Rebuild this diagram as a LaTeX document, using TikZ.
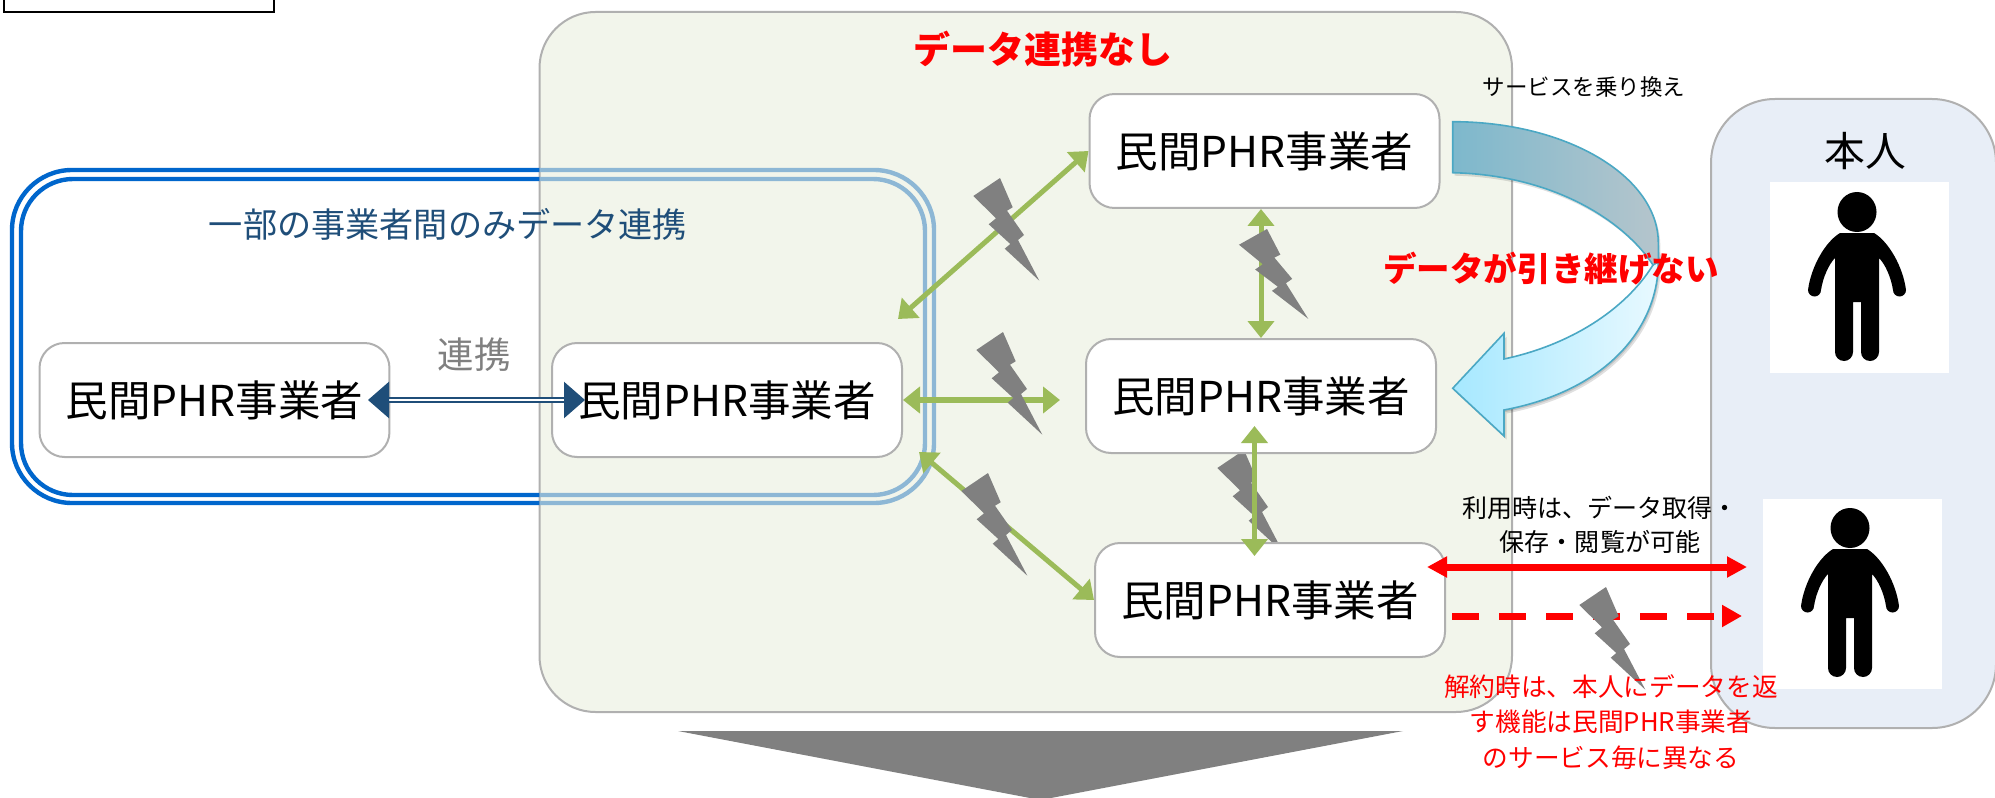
\documentclass[tikz,border=0pt]{standalone}
\usepackage{fontspec}
\setmainfont{Noto Sans CJK JP}
\usetikzlibrary{arrows.meta}
\definecolor{panelg}{HTML}{F2F5EB}
\definecolor{panelb}{HTML}{E8EEF7}
\definecolor{edgeg}{HTML}{B0B0B0}
\definecolor{navy}{HTML}{1F4E79}
\definecolor{ggreen}{HTML}{9BBB59}
\definecolor{frameblue}{HTML}{0066CC}
\definecolor{framepale}{HTML}{8DB7D5}
\definecolor{curveedge}{HTML}{4BA8C4}
\definecolor{upl}{HTML}{7DB8CC}
\definecolor{upr}{HTML}{B5C5CC}
\definecolor{lol}{HTML}{A6E8FF}
\definecolor{lor}{HTML}{E8F9FF}
\tikzset{
  x=0.05cm,y=-0.05cm,
  phr/.style={draw=edgeg,line width=0.1cm,fill=white,rounded corners=1.25cm,minimum width=17.5cm,minimum height=5.7cm,inner sep=0pt,font=\fontsize{60.5}{72}\selectfont},
  lab/.style={inner sep=0pt,align=center},
  garrow/.style={draw=ggreen,line width=0.25cm,{Triangle[length=0.85cm,width=1.3cm]}-{Triangle[length=0.85cm,width=1.3cm]}},
  rarrow/.style={draw=red,line width=0.35cm},
  boltfill/.style={fill=gray,draw=none},
  lowcurve/.pic={\path[pic actions] (1658.3,250)--(1658.3,262) .. controls (1658.3,325) and (1610,390) .. (1504,410)--(1504,436)--(1452.7,388.3)--(1504,333.3)--(1504,359) .. controls (1570,345) and (1625,310) .. (1653,265)--cycle;},
  upcurve/.pic={\path[pic actions] (1452.7,121.7) .. controls (1566,121.7) and (1658.3,176) .. (1658.3,243)--(1658.3,262)--(1653,265) .. controls (1625,222) and (1555,175) .. (1452.7,172.7)--cycle;},
}
\newcommand{\bolt}[5]{\fill[boltfill,shift={(#1,#2)},xscale=#3,yscale=#4,#5] (0,0)--(12.7,29.3)--(7,32.7)--(24,57)--(18,62)--(39.3,102.7)--(4.7,70.7)--(10.3,66)--(-11.3,46.3)--(-4,40.3)--(-26.7,18)--cycle;}
\newcommand{\person}[2]{\begin{scope}[shift={(#1,#2)}]
\fill[black] (0,20) ellipse [x radius=19.5,y radius=20];
\fill[black] (-17,41)--(17,41).. controls (32,50) and (46,75) .. (49,98) arc [start angle=0,end angle=180,radius=6.5] .. controls (34,85) and (28,72) .. (22,66)--(22,160) arc [start angle=0,end angle=180,radius=9]--(4,110)--(-4,110)--(-4,160) arc [start angle=0,end angle=180,radius=9]--(-22,66) .. controls (-28,72) and (-34,85) .. (-36,98) arc [start angle=0,end angle=180,radius=6.5] .. controls (-46,75) and (-32,50) .. (-17,41)--cycle;
\end{scope}}
\begin{document}
\begin{tikzpicture}
\useasboundingbox (0,0) rectangle (1995,798);
\clip (0,0) rectangle (1995,798);
\fill[white] (0,0) rectangle (1995,798);
\draw[black,line width=0.1cm] (4,-6) rectangle (274,12);
% person panel
\draw[draw=edgeg,line width=0.1cm,fill=panelb,rounded corners=3.2cm] (1711,99) rectangle (1996,728);
\fill[white] (1770,182) rectangle (1949,373);
\fill[white] (1763,499) rectangle (1942,689);
\person{1857}{192}
\person{1850}{508}
% green panel
\draw[draw=edgeg,line width=0.1cm,fill=panelg,rounded corners=2.8cm] (539.5,12) rectangle (1512,712);
% blue double frame
\begin{scope}
\clip (0,0) rectangle (539.5,798);
\draw[frameblue,line width=0.22cm,rounded corners=3cm] (12,170) rectangle (934,503);
\draw[frameblue,line width=0.22cm,rounded corners=2.6cm] (21,179) rectangle (925,495);
\end{scope}
\begin{scope}
\clip (539.5,0) rectangle (1995,798);
\draw[framepale,line width=0.22cm,rounded corners=3cm] (12,170) rectangle (934,503);
\draw[framepale,line width=0.22cm,rounded corners=2.6cm] (21,179) rectangle (925,495);
\end{scope}
% big arrow down
\fill[gray] (678,731)--(1403,731)--(1040.5,800)--cycle;
% bolt behind boxes and its connector
\bolt{1244}{450}{1.0}{1.0}{}
% nodes
\node[phr] (a) at (214.5,400) {民間PHR事業者};
\node[phr] (b) at (727,400) {民間PHR事業者};
\node[phr] (c) at (1264.5,151) {民間PHR事業者};
\node[phr] (d) at (1261,396) {民間PHR事業者};
\node[phr] (e) at (1270,600) {民間PHR事業者};
\coordinate (b1) at (898,319);
\coordinate (b2) at (919,452);
\coordinate (d1) at (1254.5,426);
\coordinate (e1) at (1254.5,556);
\coordinate (e2) at (1427,567);
\coordinate (p2) at (1747,567);
\coordinate (e3) at (1452,616);
\coordinate (p3) at (1742,616);
\coordinate (b3) at (1060,400);
\coordinate (ab1) at (368,400);
\coordinate (ab2) at (585,400);
% arrows
\draw[garrow] (c.west) -- (b1);
\draw[garrow,line width=0.3cm] (b.east) -- (b3);
\draw[garrow] (b2) -- (e.west);
\draw[garrow] (d.north) -- (d.north |- c.south);
\draw[garrow] (d1) -- (e1);
\draw[navy,double=white,double distance=0.08cm,line width=0.13cm,{Triangle[length=1.05cm,width=1.8cm]}-{Triangle[length=1.05cm,width=1.8cm]}] (ab1) -- (ab2);
\draw[rarrow,{Triangle[length=1cm,width=1cm]}-{Triangle[length=1cm,width=1cm]}] (e2) -- (p2);
\draw[rarrow,dash pattern=on 1.35cm off 1cm,-{Triangle[length=1cm,width=1.05cm]}] (e3) -- (p3);
% bolts
\bolt{1000}{178}{1.0}{1.0}{}
\bolt{1267}{229}{1.05}{0.875}{}
\bolt{1003}{332}{1.0}{1.0}{}
\bolt{988}{473}{1.0}{1.0}{}
\bolt{1606}{587}{1.0}{1.0}{}
% curved arrow
\pic[fill=black,opacity=0.12] at (2.5,3.5) {lowcurve};
\pic[fill=black,opacity=0.12] at (1.2,2) {lowcurve};
\pic[fill=black,opacity=0.12] at (2,3) {upcurve};
\pic[draw=curveedge,line width=0.08cm,left color=lol,right color=lor] {lowcurve};
\pic[draw=curveedge,line width=0.08cm,left color=upl,right color=upr] {upcurve};
% texts
\node[lab,text=red,font=\fontsize{52.6}{60}\selectfont\bfseries] (t1) at (1043,49) {データ連携なし};
\node[lab,text=navy,font=\fontsize{48.6}{56}\selectfont] (t2) at (448,224) {一部の事業者間のみデータ連携};
\node[lab,text=gray,font=\fontsize{52}{60}\selectfont] (t3) at (474,355) {連携};
\node[lab,font=\fontsize{32}{38}\selectfont] (t4) at (1584,87) {サービスを乗り換え};
\node[lab,font=\fontsize{58}{66}\selectfont] (t5) at (1865,151) {本人};
\node[lab,text=red,font=\fontsize{47.7}{56}\selectfont\bfseries] (t6) at (1551,269) {データが引き継げない};
\node[lab,font=\fontsize{35.6}{48}\selectfont] (t7) at (1600,525) {利用時は、データ取得・\\保存・閲覧が可能};
\node[lab,text=red,font=\fontsize{36.5}{51}\selectfont] (t8) at (1611,722) {解約時は、本人にデータを返\\す機能は民間PHR事業者\\のサービス毎に異なる};
\end{tikzpicture}
\end{document}
